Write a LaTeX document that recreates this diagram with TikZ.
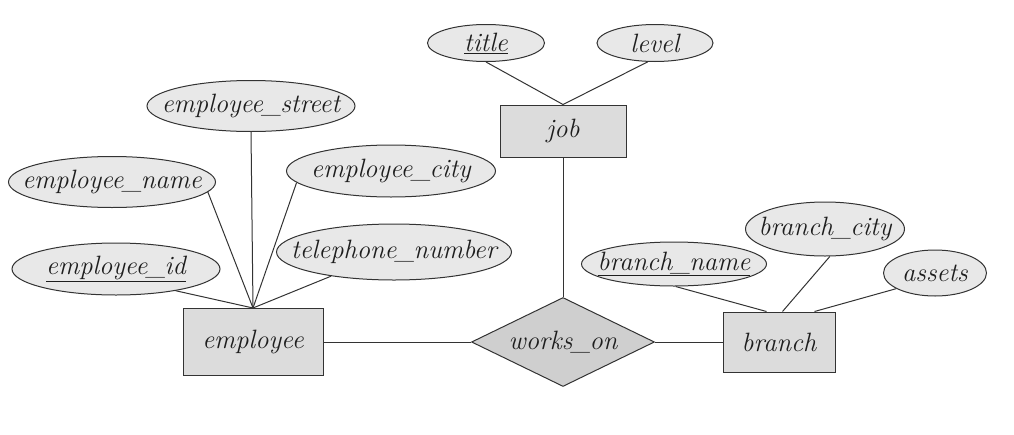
\documentclass[tikz,border=0pt]{standalone}
\usetikzlibrary{shapes.geometric,calc}
\definecolor{attrfill}{HTML}{E8E8E8}
\definecolor{entfill}{HTML}{DCDCDC}
\definecolor{relfill}{HTML}{CFCFCF}
\definecolor{edge}{HTML}{333333}
\definecolor{txt}{HTML}{1E1E1E}
\newcommand{\usc}{\kern-0.04em\_\kern-0.04em}
\tikzset{
  every node/.style={font=\fontsize{26.5}{30}\selectfont\itshape, text=txt, inner sep=0pt},
  attr/.style={ellipse, draw=edge, fill=attrfill, line width=1pt, inner xsep=-45pt, inner ysep=-2pt},
  entity/.style={rectangle, draw=edge, fill=entfill, line width=1pt},
  rel/.style={diamond, aspect=2, draw=edge, fill=relfill, line width=1pt},
  conn/.style={draw=edge, line width=1pt}
}
\begin{document}
\begin{tikzpicture}[x=1pt,y=-1pt]
\useasboundingbox (0,0) rectangle (1014,434);
% entities and relationship
\node[entity, minimum width=140pt, minimum height=67pt] (employee) at (253,342) {employee};
\node[entity, minimum width=126pt, minimum height=52pt] (job) at (563,131) {job};
\node[entity, minimum width=112pt, minimum height=60pt] (branch) at (779,342) {branch};
\node[rel, minimum width=183pt, minimum height=89pt] (works) at (563,342) {works\usc on};
% attributes of employee
\node[attr, minimum width=207pt, minimum height=51pt] (ename) at (112,182) {employee\usc name};
\node[attr, minimum width=208pt, minimum height=51pt] (estreet) at (251,106) {employee\usc street};
\node[attr, minimum width=209pt, minimum height=52pt] (ecity) at (391,171) {employee\usc city};
\node[attr, minimum width=235pt, minimum height=56pt] (tel) at (394,252) {telephone\usc number};
\node[attr, minimum width=208pt, minimum height=52pt] (eid) at (116,269) {\underline{employee\usc id}};
% attributes of job
\node[attr, minimum width=117pt, minimum height=37pt] (title) at (486,43) {\underline{title}};
\node[attr, minimum width=116pt, minimum height=37pt] (level) at (655,43) {level};
% attributes of branch
\node[attr, minimum width=185pt, minimum height=44pt] (bname) at (674,264) {\underline{branch\usc name}};
\node[attr, minimum width=159pt, minimum height=54pt] (bcity) at (825,229) {branch\usc city};
\node[attr, minimum width=103pt, minimum height=46pt] (assets) at (935,273) {assets};
% attachment points on branch
\coordinate (b1) at ($(branch.north west)+(44,0)$);
\coordinate (b2) at ($(branch.north west)+(60,0)$);
\coordinate (b3) at ($(branch.north west)+(92,0)$);
% connectors
\draw[conn] (ename.-6) -- (employee.north);
\draw[conn] (estreet.south) -- (employee.north);
\draw[conn] (ecity.187) -- (employee.north);
\draw[conn] (tel.201) -- (employee.north);
\draw[conn] (eid.-20) -- (employee.north);
\draw[conn] (title.south) -- (job.north);
\draw[conn] (level.-111) -- (job.north);
\draw[conn] (job.south) -- (works.north);
\draw[conn] (employee.east) -- (works.west);
\draw[conn] (works.east) -- (branch.west);
\draw[conn] (bname.-86) -- (b1);
\draw[conn] (bcity.-80) -- (b2);
\draw[conn] (assets.-158) -- (b3);
\end{tikzpicture}
\end{document}
